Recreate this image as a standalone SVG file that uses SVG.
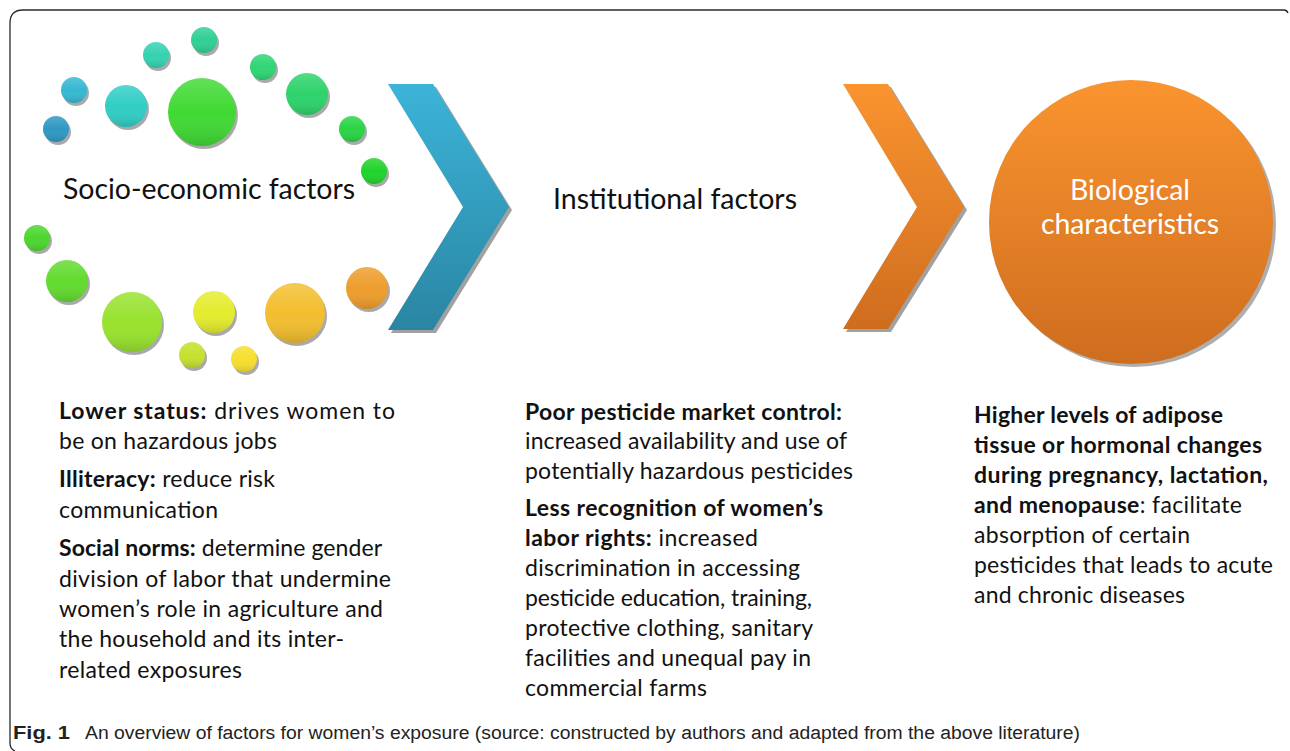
<svg xmlns="http://www.w3.org/2000/svg" width="1290" height="751" viewBox="0 0 1290 751">
  <defs>
    <!-- soft top-light / bottom-dark shading reused on every bubble -->
    <linearGradient id="shade" x1="0" y1="0" x2="0" y2="1">
      <stop offset="0" stop-color="#ffffff" stop-opacity="0.18"/>
      <stop offset="0.5" stop-color="#ffffff" stop-opacity="0"/>
      <stop offset="1" stop-color="#000000" stop-opacity="0.14"/>
    </linearGradient>
    <linearGradient id="blueGrad" x1="0" y1="0" x2="0" y2="1">
      <stop offset="0" stop-color="#3cb4d8"/>
      <stop offset="1" stop-color="#2a85a3"/>
    </linearGradient>
    <linearGradient id="orangeGrad" x1="0" y1="0" x2="0" y2="1">
      <stop offset="0" stop-color="#fa942f"/>
      <stop offset="1" stop-color="#cf6d1f"/>
    </linearGradient>
    <style>
      .shadow { fill: #9a9a9a; opacity: 0.85; }
      .ov { fill: url(#shade); }
      .head { font-family: Lato, "Open Sans", "Liberation Sans", sans-serif; font-size: 28.5px; fill: #111; }
      .headw { font-family: Lato, "Open Sans", "Liberation Sans", sans-serif; font-size: 28.5px; fill: #ffffff; text-anchor: middle; }
      .body { font-family: Lato, "Open Sans", "Liberation Sans", sans-serif; font-size: 23px; fill: #111; }
      .b { font-weight: bold; }
      .cap { font-family: "Liberation Sans", Arial, sans-serif; font-size: 18px; fill: #222; }
      .frame { fill: none; stroke: #2a2a2a; stroke-width: 1.3; }
    </style>
  </defs>

  <rect width="1290" height="751" fill="#ffffff"/>

  <!-- outer frame -->
  <path class="frame" d="M 15,751 Q 10,749 10,743 L 10,23 Q 10,10 23,10 L 1284,10 Q 1287,10 1288,13"/>

  <!-- bubble ring around the socio-economic label -->
  <g id="node-socio">
    <g id="bubbles">
      <circle class="shadow" cx="58" cy="132" r="13"/>
      <circle cx="56" cy="129" r="13" fill="#2f98c2"/>
      <circle class="ov" cx="56" cy="129" r="13"/>

      <circle class="shadow" cx="76" cy="93" r="13"/>
      <circle cx="74" cy="90" r="13" fill="#35b8d2"/>
      <circle class="ov" cx="74" cy="90" r="13"/>

      <circle class="shadow" cx="128" cy="109" r="21"/>
      <circle cx="126" cy="106" r="21" fill="#30cec6"/>
      <circle class="ov" cx="126" cy="106" r="21"/>

      <circle class="shadow" cx="158" cy="58" r="13"/>
      <circle cx="156" cy="55" r="13" fill="#34d2b0"/>
      <circle class="ov" cx="156" cy="55" r="13"/>

      <circle class="shadow" cx="206" cy="43" r="13"/>
      <circle cx="204" cy="40" r="13" fill="#30cf94"/>
      <circle class="ov" cx="204" cy="40" r="13"/>

      <circle class="shadow" cx="204" cy="115" r="34"/>
      <circle cx="202" cy="112" r="34" fill="#40d933"/>
      <circle class="ov" cx="202" cy="112" r="34"/>

      <circle class="shadow" cx="265" cy="70" r="13"/>
      <circle cx="263" cy="67" r="13" fill="#2fd574"/>
      <circle class="ov" cx="263" cy="67" r="13"/>

      <circle class="shadow" cx="309" cy="97" r="21"/>
      <circle cx="307" cy="94" r="21" fill="#2dd36a"/>
      <circle class="ov" cx="307" cy="94" r="21"/>

      <circle class="shadow" cx="354" cy="132" r="13"/>
      <circle cx="352" cy="129" r="13" fill="#28d444"/>
      <circle class="ov" cx="352" cy="129" r="13"/>

      <circle class="shadow" cx="376" cy="174" r="13"/>
      <circle cx="374" cy="171" r="13" fill="#20d42a"/>
      <circle class="ov" cx="374" cy="171" r="13"/>

      <circle class="shadow" cx="39" cy="241" r="13"/>
      <circle cx="37" cy="238" r="13" fill="#4cd62e"/>
      <circle class="ov" cx="37" cy="238" r="13"/>

      <circle class="shadow" cx="69" cy="284" r="21"/>
      <circle cx="67" cy="281" r="21" fill="#62db2e"/>
      <circle class="ov" cx="67" cy="281" r="21"/>

      <circle class="shadow" cx="134" cy="325" r="30"/>
      <circle cx="132" cy="322" r="30" fill="#98e22e"/>
      <circle class="ov" cx="132" cy="322" r="30"/>

      <circle class="shadow" cx="216" cy="315" r="21"/>
      <circle cx="214" cy="312" r="21" fill="#e4ec2e"/>
      <circle class="ov" cx="214" cy="312" r="21"/>

      <circle class="shadow" cx="194" cy="358" r="13"/>
      <circle cx="192" cy="355" r="13" fill="#c6e02e"/>
      <circle class="ov" cx="192" cy="355" r="13"/>

      <circle class="shadow" cx="246" cy="362" r="13"/>
      <circle cx="244" cy="359" r="13" fill="#f6df2e"/>
      <circle class="ov" cx="244" cy="359" r="13"/>

      <circle class="shadow" cx="297" cy="316" r="30"/>
      <circle cx="295" cy="313" r="30" fill="#f3be2e"/>
      <circle class="ov" cx="295" cy="313" r="30"/>

      <circle class="shadow" cx="369" cy="291" r="21"/>
      <circle cx="367" cy="288" r="21" fill="#ee9d2c"/>
      <circle class="ov" cx="367" cy="288" r="21"/>
    </g>
    <text class="head" x="63" y="199" textLength="292">Socio-economic factors</text>
  </g>

  <!-- connectors: the two chevrons between the stages -->
  <g id="connectors">
    <polygon points="391,87 436,87 512,210 436,333 391,333 466,210" fill="#8a8a8a" opacity="0.8"/>
    <polygon points="388,84 433,84 509,207 433,330 388,330 463,207" fill="url(#blueGrad)"/>
    <polygon points="846,87 891,87 967,210 891,332 846,332 920,210" fill="#8a8a8a" opacity="0.8"/>
    <polygon points="843,84 888,84 964,207 888,329 843,329 917,207" fill="url(#orangeGrad)"/>
  </g>

  <g id="node-institutional">
    <text class="head" x="553" y="209" textLength="244">Institutional factors</text>
  </g>

  <g id="node-biological">
    <circle cx="1134" cy="225" r="142" fill="#9a9a9a" opacity="0.8"/>
    <circle cx="1131" cy="222" r="142" fill="url(#orangeGrad)"/>
    <text class="headw" x="1130" y="200">Biological</text>
    <text class="headw" x="1130" y="234" textLength="178">characteristics</text>
  </g>

  <!-- descriptive notes under each stage -->
  <g id="notes-socio" class="body">
    <text x="59" y="419" textLength="336"><tspan class="b">Lower status:</tspan> drives women to</text>
    <text x="59" y="449" textLength="218">be on hazardous jobs</text>
    <text x="59" y="487" textLength="216"><tspan class="b">Illiteracy:</tspan> reduce risk</text>
    <text x="59" y="518" textLength="159">communication</text>
    <text x="59" y="556" textLength="323"><tspan class="b">Social norms:</tspan> determine gender</text>
    <text x="59" y="587" textLength="332">division of labor that undermine</text>
    <text x="59" y="617" textLength="324">women’s role in agriculture and</text>
    <text x="59" y="647" textLength="285">the household and its inter-</text>
    <text x="59" y="678" textLength="183">related exposures</text>
  </g>

  <g id="notes-institutional" class="body">
    <text x="525" y="420" textLength="317" class="b">Poor pesticide market control:</text>
    <text x="525" y="449" textLength="322">increased availability and use of</text>
    <text x="525" y="479" textLength="328">potentially hazardous pesticides</text>
    <text x="525" y="516" textLength="298" class="b">Less recognition of women’s</text>
    <text x="525" y="546" textLength="233"><tspan class="b">labor rights:</tspan> increased</text>
    <text x="525" y="576" textLength="275">discrimination in accessing</text>
    <text x="525" y="606" textLength="287">pesticide education, training,</text>
    <text x="525" y="636" textLength="288">protective clothing, sanitary</text>
    <text x="525" y="666" textLength="286">facilities and unequal pay in</text>
    <text x="525" y="696" textLength="182">commercial farms</text>
  </g>

  <g id="notes-biological" class="body">
    <text x="974" y="423" textLength="249" class="b">Higher levels of adipose</text>
    <text x="974" y="453" textLength="288" class="b">tissue or hormonal changes</text>
    <text x="974" y="483" textLength="294" class="b">during pregnancy, lactation,</text>
    <text x="974" y="513" textLength="268"><tspan class="b">and menopause</tspan>: facilitate</text>
    <text x="974" y="543" textLength="216">absorption of certain</text>
    <text x="974" y="573" textLength="299">pesticides that leads to acute</text>
    <text x="974" y="603" textLength="211">and chronic diseases</text>
  </g>

  <!-- figure caption -->
  <g id="caption" class="cap">
    <text x="13" y="739" textLength="57" lengthAdjust="spacingAndGlyphs" font-weight="bold">Fig. 1</text>
    <text x="85" y="739" textLength="995" lengthAdjust="spacingAndGlyphs">An overview of factors for women’s exposure  (source: constructed by authors and adapted from the above literature)</text>
  </g>
</svg>
